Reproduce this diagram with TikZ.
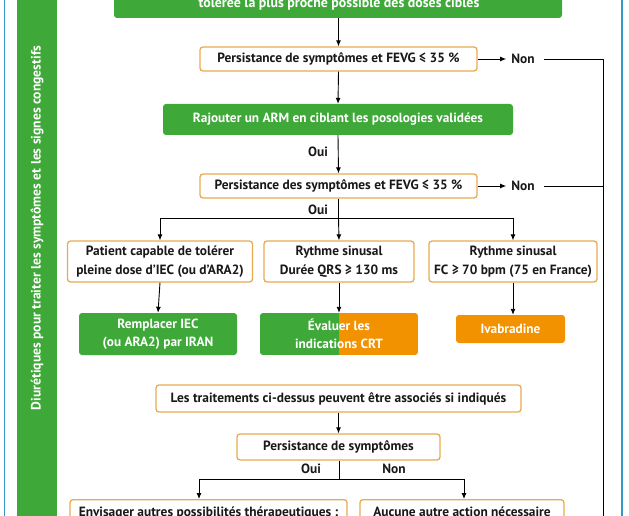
\documentclass[tikz,border=0pt]{standalone}
\usepackage{fontspec}
\setmainfont{PT Sans}
\usetikzlibrary{arrows.meta}
\definecolor{cgreen}{RGB}{62,168,56}
\definecolor{corange}{RGB}{243,146,0}
\definecolor{cborder}{RGB}{232,170,80}
\definecolor{cblue}{RGB}{48,155,200}
\tikzset{
  obox/.style={draw=cborder, line width=1.3pt, rounded corners=3pt, fill=white, text=black!90, align=center, inner sep=0pt, font=\bfseries\fontsize{13.4}{18.5}\selectfont},
  gbox/.style={fill=cgreen, rounded corners=3pt, text=white, align=center, inner sep=0pt, font=\bfseries\fontsize{13.3}{18.5}\selectfont},
  abox/.style={fill=corange, rounded corners=3pt, text=white, align=center, inner sep=0pt, font=\bfseries\fontsize{13.3}{18.5}\selectfont},
  lbl/.style={inner sep=0pt, text=black!90, font=\bfseries\fontsize{13.4}{15}\selectfont},
  arr/.style={-{Latex[length=6pt,width=5pt]}, line width=0.9pt},
  ln/.style={line width=0.9pt}
}
\begin{document}
\begin{tikzpicture}[x=1pt,y=-1pt]
\useasboundingbox (0,0) rectangle (629,516);
\clip (0,0) rectangle (629,516);
\fill[white] (0,0) rectangle (629,516);
% frame
\draw[cblue, line width=1.6pt] (4.5,-20) rectangle (622,540);
% side bar
\fill[cgreen] (17,-20) rectangle (57,540);
\node[rotate=90, text=white, font=\bfseries\fontsize{13.6}{15}\selectfont, inner sep=0pt] (side) at (37,228) {Diurétiques pour traiter les symptômes et les signes congestifs};

% top box
\node[gbox, minimum width=448pt, minimum height=50pt] (top) at (338,-7) {};
\node[text=white, font=\bfseries\fontsize{13.9}{15}\selectfont, inner sep=0pt] (toptxt) at (339,4) {tolérée la plus proche possible des doses cibles};

\node[obox, minimum width=277pt, minimum height=24pt] (b1) at (338.5,59) {Persistance de symptômes et FEVG ≤ 35 \%};
\node[lbl] (non1) at (523,59) {Non};
\node[gbox, minimum width=350pt, minimum height=31pt] (arm) at (338,119.5) {Rajouter un ARM en ciblant les posologies validées};
\node[lbl] (oui1) at (318,152) {Oui};
\node[obox, minimum width=277pt, minimum height=24pt] (b2) at (338.5,186) {Persistance des symptômes et FEVG ≤ 35 \%};
\node[lbl] (non2) at (523,186) {Non};
\node[lbl] (oui2) at (318,210) {Oui};

\node[obox, minimum width=185pt, minimum height=41pt] (ba) at (160,261.5) {Patient capable de tolérer\\pleine dose d'IEC (ou d'ARA2)};
\node[obox, minimum width=150pt, minimum height=41pt] (bb) at (339,261.5) {Rythme sinusal\\Durée QRS ≥ 130 ms};
\node[obox, minimum width=168pt, minimum height=41pt] (bc) at (513,261.5) {Rythme sinusal\\FC ≥ 70 bpm (75 en France)};

\node[gbox, minimum width=158pt, minimum height=42pt] (ga) at (158,334) {Remplacer IEC\\(ou ARA2) par IRAN};
% split box
\begin{scope}
\clip[rounded corners=3pt] (260,313) rectangle (418,355);
\fill[cgreen] (260,313) rectangle (339,355);
\fill[corange] (339,313) rectangle (418,355);
\end{scope}
\node[align=center, text=white, font=\bfseries\fontsize{13.3}{18.5}\selectfont, inner sep=0pt, minimum width=158pt, minimum height=42pt] (gb) at (339,334) {Évaluer les\\indications CRT};
\node[abox, minimum width=109pt, minimum height=28pt] (gc) at (510.5,329) {Ivabradine};

\node[obox, minimum width=365pt, minimum height=27pt] (assoc) at (338.5,398.5) {Les traitements ci-dessus peuvent être associés si indiqués};
\node[obox, minimum width=203pt, minimum height=26pt] (pers) at (338.5,447) {Persistance de symptômes};
\node[lbl] (oui3) at (311,469) {Oui};
\node[lbl] (non3) at (394,469) {Non};

\node[obox, minimum width=277pt, minimum height=45pt, anchor=north] (envis) at (208.5,499) {};
\node[lbl, anchor=base] (envtxt) at (208.5,516) {Envisager autres possibilités thérapeutiques :};
\node[obox, minimum width=204pt, minimum height=45pt, anchor=north] (aucune) at (462,499) {};
\node[lbl, anchor=base] (auctxt) at (462,516) {Aucune autre action nécessaire};

% coordinates
\coordinate (j1) at (338.5,218);
\coordinate (j2) at (339,479);
\coordinate (rl) at (603,59);
\coordinate (rl2) at (603,186);
\coordinate (rend) at (603,540);
\coordinate (e1) at (544,59);
\coordinate (e2) at (544,186);

% connectors
\draw[arr] (top.south -| b1.north) -- (b1.north);
\draw[arr] (b1.south) -- (arm.north);
\draw[arr] (arm.south) -- (b2.north);
\draw[arr] (b1.east) -- ([xshift=-5pt]non1.west);
\draw[arr] (b2.east) -- ([xshift=-5pt]non2.west);
\draw[ln] (e1) -- (rl) -- (rend);
\draw[ln] (e2) -- (rl2);

\draw[ln] (b2.south) -- (j1);
\draw[ln] (ba.north |- j1) -- (bc.north |- j1);
\draw[arr] (ba.north |- j1) -- (ba.north);
\draw[arr] (j1) -- (bb.north);
\draw[arr] (bc.north |- j1) -- (bc.north);
\draw[arr] (ba.south) -- (ga.north);
\draw[arr] (bb.south) -- (gb.north);
\draw[arr] (bc.south) -- (gc.north -| bc.south);

\draw[arr] (assoc.south) -- (pers.north);
\draw[ln] (pers.south -| j2) -- (j2);
\coordinate (jl) at (199,479);
\coordinate (jr) at (464,479);
\draw[ln] (jl) -- (jr);
\draw[arr] (jl) -- (jl |- envis.north);
\draw[arr] (jr) -- (jr |- aucune.north);
\end{tikzpicture}
\end{document}
